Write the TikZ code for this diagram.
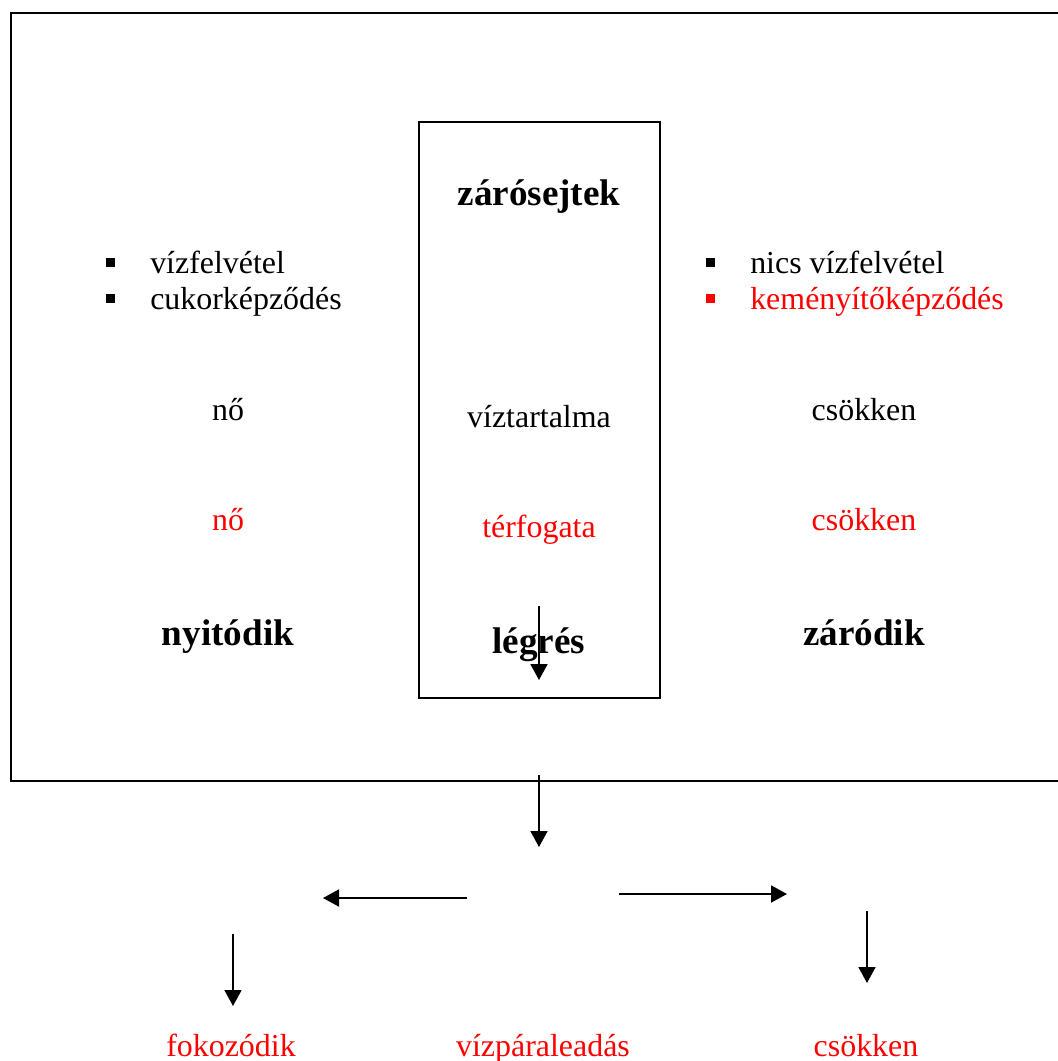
\documentclass[tikz,border=0pt]{standalone}
\usepackage{fontspec}
\setmainfont{Liberation Serif}
\usepackage{xcolor}
\usetikzlibrary{arrows.meta}
\tikzset{>=stealth}
\tikzstyle{line} = [draw, line width=1.3pt, -{Triangle[length=16*0.025cm,width=17*0.025cm]}]

\begin{document}
\begin{tikzpicture}[x=0.025cm, y=-0.025cm,
		txt/.style={font=\fontsize{22.7}{27}\selectfont, inner sep=0pt, anchor=base},
		btxt/.style={font=\fontsize{26.4}{31}\selectfont\bfseries, inner sep=0pt, anchor=base},
		bullet/.style={fill, minimum size=9*0.025cm, inner sep=0pt}]
		\useasboundingbox (0,0) rectangle (1058,1061);
		%% Frames
		\draw [line width=1.3pt] (1070,13) -- (11,13) -- (11,781) -- (1070,781);
		\draw [line width=1.3pt] (419,122) rectangle (660,698);
		%% Middle column
		\node [btxt] (zaro) at (539,205) {zárósejtek};
		\node [txt] (viz) at (539,427) {víztartalma};
		\node [txt, red] (terf) at (539,537) {térfogata};
		\node [btxt] (legres) at (539,653) {légrés};
		%% Left column
		\node [bullet] (bl1) at (110,262) {};
		\node [bullet] (bl2) at (110,298) {};
		\node [txt, anchor=base west] (felv) at (150,273) {vízfelvétel};
		\node [txt, anchor=base west] (cukor) at (150,309) {cukorképződés};
		\node [txt] (no1) at (228,420) {nő};
		\node [txt, red] (no2) at (228,530) {nő};
		\node [btxt] (nyit) at (228,645) {nyitódik};
		%% Right column
		\node [bullet] (br1) at (710,262) {};
		\node [bullet, red] (br2) at (710,298) {};
		\node [txt, anchor=base west] (nics) at (750,273) {nics vízfelvétel};
		\node [txt, anchor=base west, red] (kem) at (750,309) {keményítőképződés};
		\node [txt] (csok1) at (864,420) {csökken};
		\node [txt, red] (csok2) at (864,530) {csökken};
		\node [btxt] (zarod) at (864,645) {záródik};
		%% Bottom row
		\node [txt, red] (fok) at (231,1056) {fokozódik};
		\node [txt, red] (para) at (543,1056) {vízpáraleadás};
		\node [txt, red] (csok3) at (866,1056) {csökken};
		%% Arrow ends
		\coordinate (a1) at (539,606);
		\coordinate (a2) at (539,680);
		\coordinate (b1) at (539,775);
		\coordinate (b2) at (539,847);
		\coordinate (l1) at (467,898);
		\coordinate (l2) at (323,898);
		\coordinate (r1) at (619,894);
		\coordinate (r2) at (787,894);
		\coordinate (dl1) at (233,934);
		\coordinate (dl2) at (233,1006);
		\coordinate (dr1) at (867,911);
		\coordinate (dr2) at (867,983);
		%% Links
		\path [line] (a1) to (a2);
		\path [line] (b1) to (b2);
		\path [line] (l1) to (l2);
		\path [line] (r1) to (r2);
		\path [line] (dl1) to (dl2);
		\path [line] (dr1) to (dr2);
\end{tikzpicture}
\end{document}
